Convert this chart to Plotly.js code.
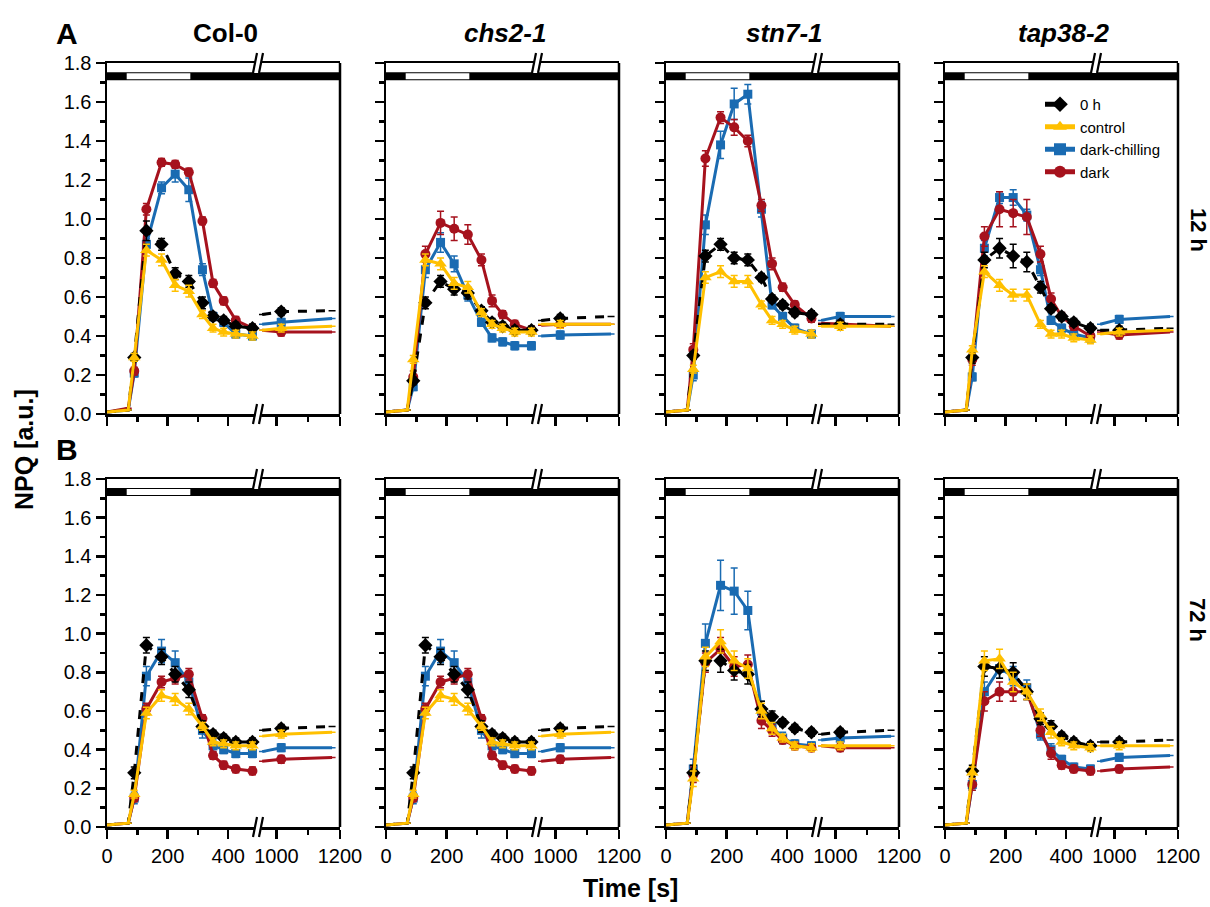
<!DOCTYPE html>
<html><head><meta charset="utf-8">
<script src="https://cdn.plot.ly/plotly-3.0.1.min.js"></script>
<style>html,body{margin:0;padding:0;background:#fff}#chart{width:1210px;height:907px}</style>
</head><body><div id="chart"></div>
<script>
// ---------------- DATA ----------------
const TIMES = [0, 70, 90, 130, 180, 225, 270, 315, 350, 385, 425, 480, 955, 1015, 1175];
const N_LEFT = 12;
const LIGHT_ON = 65, LIGHT_OFF = 275;
const GENOTYPES = ['Col-0', 'chs2-1', 'stn7-1', 'tap38-2'];
const SERIES = ['0 h', 'control', 'dark-chilling', 'dark'];
const ROW_LABELS = ['12 h', '72 h'];
const PANEL_LETTERS = ['A', 'B'];
const X_TICKS_LEFT = [0, 200, 400];
const X_TICKS_RIGHT = [1000, 1200];

// Row A (12 h)
const A_Col0_0h   = [0.01,0.02,0.29,0.94,0.87,0.72,0.68,0.57,0.50,0.48,0.45,0.44, 0.51,0.525,0.53];
const A_Col0_ctrl = [0.01,0.02,0.29,0.84,0.79,0.66,0.63,0.51,0.44,0.42,0.41,0.40, 0.43,0.44,0.45];
const A_Col0_dchl = [0.01,0.02,0.21,0.87,1.16,1.23,1.15,0.74,0.50,0.47,0.41,0.40, 0.46,0.47,0.49];
const A_Col0_dark = [0.01,0.03,0.22,1.05,1.29,1.28,1.24,0.99,0.67,0.58,0.48,0.44, 0.43,0.42,0.42];
const A_chs2_0h   = [0.01,0.02,0.17,0.57,0.68,0.64,0.62,0.53,0.47,0.45,0.43,0.43, 0.48,0.49,0.50];
const A_chs2_ctrl = [0.01,0.02,0.28,0.79,0.77,0.67,0.65,0.52,0.46,0.44,0.42,0.42, 0.46,0.46,0.46];
const A_chs2_dchl = [0.01,0.02,0.14,0.74,0.88,0.77,0.61,0.47,0.39,0.37,0.35,0.35, 0.40,0.405,0.41];
const A_chs2_dark = [0.01,0.02,0.19,0.82,0.98,0.95,0.92,0.79,0.58,0.51,0.46,0.43, 0.455,0.46,0.46];
const A_stn7_0h   = [0.01,0.02,0.30,0.81,0.87,0.80,0.79,0.70,0.59,0.56,0.52,0.51, 0.46,0.46,0.46];
const A_stn7_ctrl = [0.01,0.02,0.23,0.70,0.73,0.68,0.68,0.56,0.48,0.46,0.43,0.41, 0.45,0.45,0.45];
const A_stn7_dchl = [0.01,0.02,0.20,0.97,1.38,1.59,1.64,1.05,0.56,0.50,0.44,0.41, 0.48,0.50,0.50];
const A_stn7_dark = [0.01,0.02,0.33,1.31,1.52,1.47,1.40,1.07,0.77,0.65,0.56,0.49, 0.465,0.46,0.45];
const A_tap38_0h   = [0.01,0.02,0.29,0.79,0.85,0.81,0.78,0.65,0.54,0.50,0.47,0.44, 0.43,0.43,0.44];
const A_tap38_ctrl = [0.01,0.02,0.33,0.73,0.66,0.61,0.61,0.46,0.41,0.41,0.39,0.38, 0.41,0.42,0.43];
const A_tap38_dchl = [0.01,0.02,0.19,0.85,1.11,1.11,1.02,0.74,0.48,0.44,0.41,0.39, 0.46,0.485,0.50];
const A_tap38_dark = [0.01,0.02,0.28,0.91,1.05,1.03,1.01,0.82,0.59,0.50,0.45,0.40, 0.42,0.405,0.42];

// Row B (72 h)
const B_Col0_0h   = [0.01,0.02,0.28,0.94,0.88,0.79,0.71,0.52,0.48,0.46,0.44,0.44, 0.50,0.51,0.52];
const B_Col0_ctrl = [0.01,0.02,0.17,0.59,0.68,0.66,0.61,0.52,0.44,0.43,0.42,0.42, 0.47,0.48,0.49];
const B_Col0_dchl = [0.01,0.02,0.15,0.78,0.91,0.85,0.75,0.50,0.42,0.40,0.38,0.38, 0.39,0.41,0.41];
const B_Col0_dark = [0.01,0.02,0.15,0.61,0.75,0.77,0.79,0.56,0.37,0.32,0.30,0.29, 0.34,0.35,0.36];
const B_chs2_0h   = [0.01,0.02,0.28,0.94,0.88,0.79,0.71,0.52,0.48,0.46,0.44,0.44, 0.50,0.51,0.52];
const B_chs2_ctrl = [0.01,0.02,0.17,0.59,0.68,0.66,0.61,0.52,0.44,0.43,0.42,0.42, 0.47,0.48,0.49];
const B_chs2_dchl = [0.01,0.02,0.15,0.78,0.91,0.85,0.75,0.50,0.42,0.40,0.38,0.38, 0.39,0.41,0.41];
const B_chs2_dark = [0.01,0.02,0.15,0.61,0.75,0.77,0.79,0.56,0.37,0.32,0.30,0.29, 0.34,0.35,0.36];
const B_stn7_0h   = [0.01,0.02,0.28,0.86,0.86,0.81,0.79,0.61,0.57,0.54,0.51,0.49, 0.48,0.49,0.50];
const B_stn7_ctrl = [0.01,0.02,0.25,0.88,0.96,0.86,0.82,0.60,0.51,0.46,0.42,0.41, 0.42,0.42,0.42];
const B_stn7_dchl = [0.01,0.02,0.30,0.95,1.25,1.22,1.12,0.60,0.52,0.46,0.43,0.42, 0.45,0.46,0.47];
const B_stn7_dark = [0.01,0.02,0.27,0.85,0.92,0.83,0.84,0.55,0.50,0.45,0.42,0.41, 0.42,0.41,0.41];
const B_tap38_0h   = [0.01,0.02,0.29,0.83,0.82,0.80,0.70,0.56,0.52,0.47,0.44,0.42, 0.44,0.44,0.45];
const B_tap38_ctrl = [0.01,0.02,0.28,0.86,0.87,0.75,0.70,0.58,0.49,0.44,0.42,0.41, 0.42,0.42,0.42];
const B_tap38_dchl = [0.01,0.02,0.22,0.70,0.82,0.78,0.72,0.48,0.40,0.35,0.31,0.30, 0.34,0.36,0.37];
const B_tap38_dark = [0.01,0.02,0.22,0.65,0.70,0.70,0.70,0.50,0.38,0.32,0.30,0.29, 0.29,0.30,0.31];

// Error bars (SD), null = none drawn
const E_small  = [null,null,0.02,0.03,0.03,0.03,0.03,0.02,0.02,0.02,0.02,0.02, null,0.02,null];
const E_A_Col0_0h   = [null,null,0.02,0.05,0.03,0.03,0.03,0.03,0.02,0.02,0.02,0.02, null,0.02,null];
const E_A_Col0_dchl = [null,null,0.02,0.03,0.03,0.04,0.06,0.03,0.02,0.02,0.02,0.02, null,0.02,null];
const E_A_Col0_dark = [null,null,0.02,0.03,0.02,0.02,0.02,0.02,0.02,0.02,0.02,0.02, null,0.02,null];
const E_A_chs2_dchl = [null,null,0.02,0.04,0.05,0.04,0.03,0.02,0.02,0.02,0.02,0.02, null,0.02,null];
const E_A_chs2_dark = [null,null,0.03,0.04,0.06,0.06,0.05,0.03,0.03,0.02,0.02,0.02, null,0.02,null];
const E_A_stn7_dchl = [null,null,0.03,0.05,0.07,0.08,0.05,0.04,0.02,0.02,0.02,0.02, null,0.02,null];
const E_A_stn7_dark = [null,null,0.03,0.04,0.03,0.04,0.03,0.03,0.03,0.02,0.02,0.02, null,0.02,null];
const E_A_tap38_0h  = [null,null,0.03,0.04,0.05,0.06,0.05,0.03,0.02,0.02,0.02,0.02, null,0.02,null];
const E_A_tap38_dchl= [null,null,0.02,0.04,0.03,0.04,0.03,0.03,0.02,0.02,0.02,0.02, null,0.02,null];
const E_A_tap38_dark= [null,null,0.03,0.05,0.09,0.07,0.09,0.04,0.03,0.02,0.02,0.02, null,0.02,null];
const E_B_Col0_0h   = [null,null,0.03,0.04,0.04,0.04,0.04,0.03,0.02,0.02,0.02,0.02, null,0.02,null];
const E_B_Col0_dchl = [null,null,0.03,0.05,0.06,0.06,0.05,0.04,0.03,0.02,0.02,0.02, null,0.02,null];
const E_B_stn7_dchl = [null,null,0.05,0.10,0.13,0.12,0.10,0.05,0.03,0.03,0.02,0.02, null,0.02,null];
const E_B_stn7_mid  = [null,null,0.04,0.05,0.06,0.05,0.05,0.04,0.03,0.02,0.02,0.02, null,0.02,null];
const E_B_tap38_mid = [null,null,0.03,0.05,0.05,0.05,0.04,0.03,0.03,0.02,0.02,0.02, null,0.02,null];

const PANELS = [
  {row:0, col:0, vals:[A_Col0_0h, A_Col0_ctrl, A_Col0_dchl, A_Col0_dark], errs:[E_A_Col0_0h, E_small, E_A_Col0_dchl, E_A_Col0_dark]},
  {row:0, col:1, vals:[A_chs2_0h, A_chs2_ctrl, A_chs2_dchl, A_chs2_dark], errs:[E_small, E_small, E_A_chs2_dchl, E_A_chs2_dark]},
  {row:0, col:2, vals:[A_stn7_0h, A_stn7_ctrl, A_stn7_dchl, A_stn7_dark], errs:[E_small, E_small, E_A_stn7_dchl, E_A_stn7_dark]},
  {row:0, col:3, vals:[A_tap38_0h, A_tap38_ctrl, A_tap38_dchl, A_tap38_dark], errs:[E_A_tap38_0h, E_small, E_A_tap38_dchl, E_A_tap38_dark]},
  {row:1, col:0, vals:[B_Col0_0h, B_Col0_ctrl, B_Col0_dchl, B_Col0_dark], errs:[E_B_Col0_0h, E_small, E_B_Col0_dchl, E_small]},
  {row:1, col:1, vals:[B_chs2_0h, B_chs2_ctrl, B_chs2_dchl, B_chs2_dark], errs:[E_B_Col0_0h, E_small, E_B_Col0_dchl, E_small]},
  {row:1, col:2, vals:[B_stn7_0h, B_stn7_ctrl, B_stn7_dchl, B_stn7_dark], errs:[E_B_stn7_mid, E_B_stn7_mid, E_B_stn7_dchl, E_B_stn7_mid]},
  {row:1, col:3, vals:[B_tap38_0h, B_tap38_ctrl, B_tap38_dchl, B_tap38_dark], errs:[E_B_tap38_mid, E_B_tap38_mid, E_B_tap38_mid, E_B_tap38_mid]}
];

// ---------------- STYLE ----------------
const W = 1210, H = 907;
const COLORS  = ['#000000', '#FFC000', '#1A6BB2', '#A6121D'];
const SYMBOLS = ['diamond', 'triangle-up', 'square', 'circle'];
const MSIZE   = [11, 11, 9, 10];
const DASHES  = ['dash', 'solid', 'solid', 'solid'];
const DRAW_ORDER = [2, 3, 0, 1];
const LEFTS = [107, 386, 666, 945];
const ROWPX = [[63, 414], [479, 827]];
const SEGL = 150, GAP = 2, SEGR = 81, PW = SEGL + GAP + SEGR;
const LW = 2.5;
const FONT = 'Liberation Sans, Arial, sans-serif';
const px = v => v / W;
const py = v => 1 - v / H;

const data = [];
const layout = {
  width: W, height: H,
  margin: {l:0, r:0, t:0, b:0},
  paper_bgcolor: '#ffffff', plot_bgcolor: 'rgba(0,0,0,0)',
  font: {family: FONT, color: '#000', size: 20},
  showlegend: true,
  legend: {x: px(1040), y: py(88), xanchor: 'left', yanchor: 'top',
           font: {family: FONT, size: 15, color: '#000'}, bgcolor: 'rgba(0,0,0,0)',
           borderwidth: 0, itemsizing: 'constant', tracegroupgap: 0},
  shapes: [], annotations: []
};

function axName(kind, id) { return kind + 'axis' + (id === 1 ? '' : id); }
function axRef(kind, id) { return kind + (id === 1 ? '' : id); }

PANELS.forEach((P, p) => {
  const L = LEFTS[P.col];
  const [top, bot] = ROWPX[P.row];
  const xlId = 2*p + 1, xrId = 2*p + 2, yId = p + 1;
  const showX = P.row === 1;
  const common = {
    showline: true, linewidth: LW, linecolor: '#000', mirror: true,
    ticks: 'outside', ticklen: 9, tickwidth: LW, tickcolor: '#000',
    showgrid: false, zeroline: false, fixedrange: true,
    tickfont: {family: FONT, size: 20, color: '#000'},
    anchor: axRef('y', yId), showticklabels: showX
  };
  layout[axName('x', xlId)] = Object.assign({}, common, {
    domain: [px(L), px(L + SEGL)], range: [0, 495],
    tickmode: 'array', tickvals: X_TICKS_LEFT,
    minor: {tickmode: 'array', tickvals: [100, 300], ticks: 'outside', ticklen: 5, tickwidth: LW, tickcolor: '#000', showgrid: false}
  });
  layout[axName('x', xrId)] = Object.assign({}, common, {
    domain: [px(L + SEGL + GAP), px(L + PW)], range: [945, 1200],
    tickmode: 'array', tickvals: X_TICKS_RIGHT,
    minor: {tickmode: 'array', tickvals: [1100], ticks: 'outside', ticklen: 5, tickwidth: LW, tickcolor: '#000', showgrid: false}
  });
  layout[axName('y', yId)] = {
    domain: [py(bot), py(top)], range: [0, 1.8], anchor: axRef('x', xlId),
    showline: true, linewidth: LW, linecolor: '#000', mirror: false,
    tickmode: 'linear', tick0: 0, dtick: 0.2, tickformat: '.1f',
    ticks: 'outside', ticklen: 9, tickwidth: LW, tickcolor: '#000',
    minor: {dtick: 0.1, ticks: 'outside', ticklen: 5, tickwidth: LW, tickcolor: '#000', showgrid: false},
    showgrid: false, zeroline: false, fixedrange: true,
    showticklabels: P.col === 0,
    tickfont: {family: FONT, size: 20, color: '#000'}
  };

  DRAW_ORDER.forEach(s => {
    const vals = P.vals[s], errs = P.errs[s];
    const isLegend = (p === 3);
    const seg = (lo, hi, xref) => {
      const idx = TIMES.map((t, i) => i).filter(i => i >= lo && i < hi);
      return {
        type: 'scatter', mode: 'lines+markers',
        x: idx.map(i => TIMES[i]), y: idx.map(i => vals[i]),
        xaxis: xref, yaxis: axRef('y', yId),
        name: SERIES[s], legendrank: s + 1,
        line: {color: COLORS[s], width: 3, dash: DASHES[s]},
        marker: {symbol: SYMBOLS[s], color: COLORS[s], opacity: 1,
                 size: idx.map(i => (i < 2 || i === N_LEFT || i === TIMES.length - 1) ? 0 : MSIZE[s]),
                 line: {width: 0}},
        error_y: {type: 'data', array: idx.map(i => errs[i]), visible: true,
                  color: COLORS[s], thickness: 1.5, width: 3.5},
        cliponaxis: false, hoverinfo: 'skip'
      };
    };
    const tl = seg(0, N_LEFT, axRef('x', xlId));
    tl.showlegend = isLegend;
    const tr = seg(N_LEFT, TIMES.length, axRef('x', xrId));
    tr.showlegend = false;
    data.push(tl, tr);
  });

  // light/dark bar on top
  layout.shapes.push({type:'rect', xref:'paper', yref:axRef('y', yId), x0:px(L), x1:px(L+PW), y0:1.712, y1:1.753,
                      fillcolor:'#000', line:{width:0}, layer:'above'});
  layout.shapes.push({type:'rect', xref:axRef('x', xlId), yref:axRef('y', yId), x0:LIGHT_ON, x1:LIGHT_OFF, y0:1.717, y1:1.748,
                      fillcolor:'#fff', line:{width:0}, layer:'above'});
  // right border
  layout.shapes.push({type:'line', xref:'paper', yref:'paper', x0:px(L+PW), x1:px(L+PW), y0:py(bot), y1:py(top),
                      line:{color:'#000', width:LW}, layer:'above'});
  // axis break marks
  const bx = L + SEGL + GAP/2;
  [top, bot].forEach(yy => {
    layout.shapes.push({type:'path', xref:'paper', yref:'paper',
      path:`M ${px(bx-4)} ${py(yy+10)} L ${px(bx+2)} ${py(yy+10)} L ${px(bx+5)} ${py(yy-10)} L ${px(bx-1)} ${py(yy-10)} Z`,
      fillcolor:'#fff', line:{width:0}, layer:'above'});
    layout.shapes.push({type:'line', xref:'paper', yref:'paper', x0:px(bx-5), y0:py(yy+10), x1:px(bx-1), y1:py(yy-10),
      line:{color:'#000', width:2.2}, layer:'above'});
    layout.shapes.push({type:'line', xref:'paper', yref:'paper', x0:px(bx+1), y0:py(yy+10), x1:px(bx+5), y1:py(yy-10),
      line:{color:'#000', width:2.2}, layer:'above'});
  });

  if (P.row === 0) {
    const t = P.col === 0 ? '<b>' + GENOTYPES[P.col] + '</b>' : '<b><i>' + GENOTYPES[P.col] + '</i></b>';
    layout.annotations.push({text: t, xref:'paper', yref:'paper', x: px(L + PW/2 + 2), y: py(33),
      xanchor:'center', yanchor:'middle', showarrow:false, font:{family:FONT, size:26, color:'#000'}});
  }
});

// panel letters, row labels, axis titles
layout.annotations.push({text:'<b>' + PANEL_LETTERS[0] + '</b>', xref:'paper', yref:'paper', x:px(67), y:py(33), xanchor:'center', yanchor:'middle', showarrow:false, font:{family:FONT, size:30, color:'#000'}});
layout.annotations.push({text:'<b>' + PANEL_LETTERS[1] + '</b>', xref:'paper', yref:'paper', x:px(67), y:py(450), xanchor:'center', yanchor:'middle', showarrow:false, font:{family:FONT, size:30, color:'#000'}});
layout.annotations.push({text:'<b>' + ROW_LABELS[0] + '</b>', xref:'paper', yref:'paper', x:px(1198), y:py(230), xanchor:'center', yanchor:'middle', textangle:90, showarrow:false, font:{family:FONT, size:22, color:'#000'}});
layout.annotations.push({text:'<b>' + ROW_LABELS[1] + '</b>', xref:'paper', yref:'paper', x:px(1198), y:py(620), xanchor:'center', yanchor:'middle', textangle:90, showarrow:false, font:{family:FONT, size:22, color:'#000'}});
layout.annotations.push({text:'<b>NPQ [a.u.]</b>', xref:'paper', yref:'paper', x:px(24), y:py(450), xanchor:'center', yanchor:'middle', textangle:-90, showarrow:false, font:{family:FONT, size:25, color:'#000'}});
layout.annotations.push({text:'<b>Time [s]</b>', xref:'paper', yref:'paper', x:px(630), y:py(888), xanchor:'center', yanchor:'middle', showarrow:false, font:{family:FONT, size:25, color:'#000'}});

Plotly.newPlot('chart', data, layout, {displayModeBar:false, staticPlot:true});
</script></body></html>
